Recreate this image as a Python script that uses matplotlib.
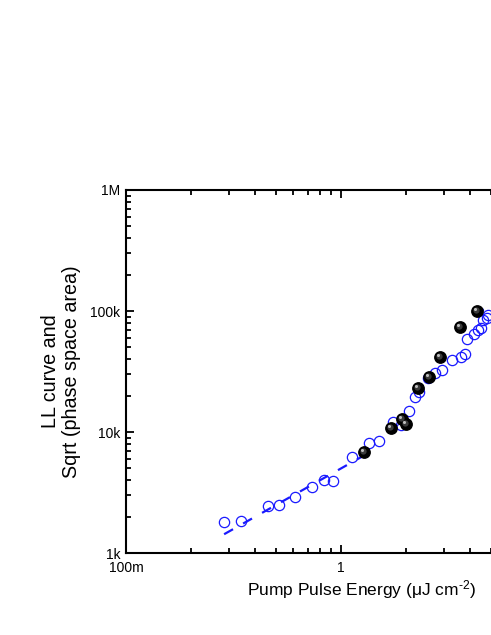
import matplotlib
matplotlib.use('Agg')
import matplotlib.pyplot as plt
import matplotlib.transforms as mtransforms
from matplotlib.ticker import FixedLocator, FuncFormatter, LogLocator, NullFormatter

plt.rcParams['font.family'] = ['Liberation Sans', 'DejaVu Sans']
plt.rcParams['mathtext.fontset'] = 'custom'
plt.rcParams['mathtext.rm'] = 'Liberation Sans'
plt.rcParams['mathtext.it'] = 'Liberation Sans:italic'

# Données lues sur la figure
# cercles ouverts (sqrt de l'aire de l'espace des phases)
open_x = [0.286, 0.343, 0.457, 0.515, 0.611, 0.733, 0.834, 0.918, 1.125, 1.35,
          1.50, 1.746, 1.90, 2.07, 2.21, 2.31, 2.54, 2.74, 2.95, 3.28,
          3.61, 3.77, 3.85, 4.16, 4.34, 4.48, 4.57, 4.78, 4.83]
open_y = [1800, 1840, 2445, 2494, 2904, 3508, 4010, 3935, 6209, 8108,
          8430, 12100, 11430, 14930, 19460, 21420, 27940, 30740, 32550, 39350,
          41690, 44140, 58770, 64580, 69660, 72400, 84300, 87500, 92600]

# sphères noires (courbe LL)
ll_x = [1.28, 1.71, 1.92, 2.00, 2.28, 2.57, 2.89, 3.58, 4.29]
ll_y = [6840, 10790, 12800, 11640, 23100, 28500, 41700, 73800, 100000]

# droites d'ajustement (tirets)
fit_x = [0.286, 1.42]
fit_y = [1430, 7100]
fit2_x = [4.27, 4.57]
fit2_y = [96000, 102000]

fig = plt.figure(figsize=(4.91, 6.35), dpi=100)
ax = fig.add_axes([0.2566, 0.1291, 0.8758, 0.5717])

blue = '#1a1aff'
ax.plot(fit_x, fit_y, color=blue, lw=1.6, dashes=(4.6, 5.2), zorder=2)
ax.plot(fit2_x, fit2_y, color=blue, lw=1.6, zorder=2)
ax.plot(open_x, open_y, 'o', ms=7.4, mfc='none', mec=blue, mew=0.9, zorder=3)

# sphères : base noire + reflets décalés
ax.plot(ll_x, ll_y, 'o', ms=8.2, color='black', mec='black', zorder=4)
off1 = mtransforms.offset_copy(ax.transData, fig=fig, x=-1.2, y=1.2, units='dots')
off2 = mtransforms.offset_copy(ax.transData, fig=fig, x=-2.0, y=2.0, units='dots')
ax.plot(ll_x, ll_y, 'o', ms=4.5, color='#3a3a3a', mec='none', transform=off1, zorder=5)
ax.plot(ll_x, ll_y, 'o', ms=2.2, color='#bdbdbd', mec='none', transform=off2, zorder=6)

ax.set_xscale('log')
ax.set_yscale('log')
ax.set_xlim(0.1, 10)
ax.set_ylim(1e3, 1e6)

def fmt_x(v, pos):
    return {0.1: '100m', 1: '1'}.get(round(v, 3), '')

def fmt_y(v, pos):
    return {1e3: '1k', 1e4: '10k', 1e5: '100k', 1e6: '1M'}.get(v, '')

ax.xaxis.set_major_locator(FixedLocator([0.1, 1, 10]))
ax.xaxis.set_major_formatter(FuncFormatter(fmt_x))
ax.xaxis.set_minor_locator(LogLocator(base=10, subs=range(2, 10)))
ax.xaxis.set_minor_formatter(NullFormatter())
ax.yaxis.set_major_locator(FixedLocator([1e3, 1e4, 1e5, 1e6]))
ax.yaxis.set_major_formatter(FuncFormatter(fmt_y))
ax.yaxis.set_minor_locator(LogLocator(base=10, subs=range(2, 10)))
ax.yaxis.set_minor_formatter(NullFormatter())

ax.tick_params(which='both', direction='in', top=True, right=True, width=1.3, labelsize=10)
ax.tick_params(which='major', length=6, pad=4)
ax.tick_params(axis='x', which='major', pad=5.5)
ax.tick_params(which='minor', length=3.5)
for s in ax.spines.values():
    s.set_linewidth(1.5)

ax.set_xlabel('Pump Pulse Energy (μJ cm$^{\u2010 2}$)', fontsize=12.5)
ax.xaxis.set_label_coords(0.547, -0.068)
ax.set_ylabel('LL curve and\nSqrt (phase space area)', fontsize=14.2, linespacing=1.15)
ax.yaxis.set_label_coords(-0.105, 0.5)

fig.savefig('out.png', dpi=100)
